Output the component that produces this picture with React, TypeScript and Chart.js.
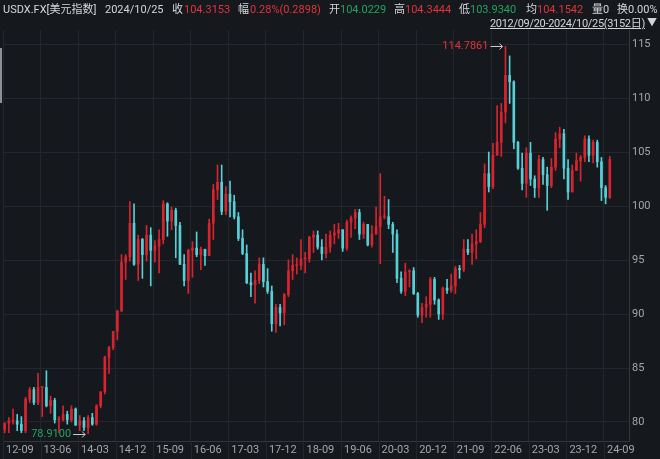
import React, { useEffect, useRef } from "react";
import { Chart, registerables } from "chart.js";

Chart.register(...registerables);

// Monthly candles, Sep 2012 (partial, from 09/20) .. Oct 2024 (to 10/25)
const firstOpen = 79.3;

const closes = [
  79.9, 80.1, 80.1, 79.8,
  79.2, 82.1, 83.0, 81.8, 83.2, 83.2, 81.5, 82.0, 80.2, 80.2, 80.7, 80.2,
  81.2, 79.7, 80.1, 79.5, 80.4, 79.8, 81.5, 82.8, 86.0, 86.9, 88.4, 90.3,
  94.8, 95.3, 98.4, 94.6, 96.9, 95.5, 97.3, 95.9, 96.3, 96.9, 100.2, 98.6,
  99.6, 98.2, 94.6, 93.1, 95.9, 96.1, 95.5, 96.0, 95.4, 98.4, 101.5, 102.2,
  99.5, 101.1, 100.4, 99.0, 97.0, 95.6, 92.9, 92.7, 93.1, 94.6, 93.0, 92.1,
  89.1, 90.6, 90.1, 91.8, 94.0, 94.5, 94.5, 95.1, 95.1, 97.1, 97.3, 96.2,
  95.6, 96.2, 97.3, 97.5, 97.8, 96.1, 98.5, 98.9, 99.4, 97.4, 98.3, 96.4,
  97.4, 98.1, 99.0, 99.0, 98.3, 97.4, 93.3, 92.1, 93.9, 94.0, 91.9, 89.9,
  90.6, 90.9, 93.2, 91.3, 90.0, 92.4, 92.2, 92.6, 94.2, 94.1, 96.0, 95.7,
  96.5, 96.7, 98.3, 103.0, 101.8, 104.7, 105.9, 108.7, 112.1, 111.5, 105.9, 103.5,
  102.1, 104.9, 102.5, 101.7, 104.3, 102.9, 101.9, 103.6, 106.2, 106.7, 103.5, 101.3,
  103.3, 104.2, 104.5, 106.2, 104.7, 105.9, 104.1, 101.7, 100.8, 104.3153,
];

const highs = [
  79.9, 80.4, 81.2, 80.7,
  80.5, 82.3, 83.2, 83.2, 84.5, 83.2, 84.75, 82.4, 82.2, 80.5, 81.5, 81.0,
  81.5, 81.3, 80.6, 80.4, 80.6, 80.8, 81.6, 82.8, 86.1, 87.0, 88.4, 90.3,
  95.5, 95.5, 100.4, 100.2, 97.3, 97.0, 98.2, 98.0, 96.8, 97.8, 100.5, 100.3,
  99.9, 99.8, 98.5, 95.5, 96.0, 96.7, 97.6, 96.2, 96.0, 98.8, 102.0, 103.8,
  103.8, 101.8, 102.3, 101.0, 99.4, 97.8, 96.4, 93.8, 94.0, 95.2, 95.2, 94.2,
  92.6, 90.9, 90.9, 91.9, 95.0, 95.5, 95.2, 96.9, 95.7, 97.2, 97.7, 97.7,
  96.9, 97.4, 97.7, 98.3, 98.4, 97.8, 98.7, 99.1, 99.7, 99.7, 98.5, 98.3,
  98.2, 99.9, 103.0, 100.9, 100.6, 98.5, 97.8, 93.9, 94.7, 94.1, 94.3, 92.0,
  91.0, 91.6, 93.4, 93.4, 91.4, 92.5, 93.2, 93.7, 94.4, 94.5, 96.9, 96.9,
  97.4, 97.8, 99.4, 103.9, 105.0, 105.8, 109.3, 109.5, 114.7861, 113.9, 111.6, 106.0,
  104.9, 105.4, 105.9, 102.8, 104.7, 104.5, 103.6, 104.4, 106.8, 107.3, 107.1, 104.3,
  103.8, 104.9, 104.7, 106.5, 106.5, 106.1, 106.1, 104.5, 101.9, 104.6,
];

const lows = [
  79.0, 79.0, 79.8, 79.2,
  79.0, 79.0, 81.8, 81.6, 81.6, 80.5, 81.4, 80.8, 79.9, 79.0, 80.1, 79.8,
  80.0, 79.7, 79.2, 79.2, 78.91, 79.7, 79.7, 81.3, 82.6, 84.5, 86.7, 87.6,
  90.2, 93.2, 94.9, 94.5, 93.1, 93.3, 94.9, 92.6, 94.8, 93.8, 96.5, 97.2,
  97.8, 95.2, 94.6, 92.6, 91.9, 93.4, 95.3, 94.1, 94.5, 95.4, 96.9, 100.6,
  99.2, 99.2, 99.0, 98.8, 96.8, 95.5, 92.8, 91.6, 91.0, 92.8, 92.5, 91.9,
  88.4, 88.3, 88.9, 89.0, 91.6, 93.2, 93.7, 94.1, 93.8, 94.8, 95.7, 96.0,
  95.0, 95.2, 95.7, 96.5, 97.0, 95.8, 95.9, 97.1, 97.9, 96.9, 97.0, 96.3,
  96.2, 97.4, 94.65, 98.8, 97.9, 95.7, 92.9, 91.9, 91.7, 92.5, 91.8, 89.7,
  89.2, 89.7, 89.7, 90.9, 89.5, 89.5, 91.9, 92.0, 91.9, 93.3, 93.9, 95.5,
  94.6, 95.1, 96.6, 98.0, 101.3, 101.6, 104.7, 104.6, 107.7, 109.5, 105.3, 103.4,
  101.5, 100.8, 101.9, 100.8, 100.8, 102.0, 99.6, 101.7, 103.3, 105.4, 102.5, 100.6,
  101.3, 103.3, 102.3, 104.1, 104.1, 104.0, 103.6, 100.5, 100.2, 100.7,
];

const xTickLabels = [
  "12-09", "13-06", "14-03", "14-12", "15-09", "16-06", "17-03", "17-12", "18-09",
  "19-06", "20-03", "20-12", "21-09", "22-06", "23-03", "23-12", "24-09",
];
const yTickValues = [80, 85, 90, 95, 100, 105, 110, 115];

const UP = "#d8242f";
const DOWN = "#55d0d6";
const BG = "#15181d";
const GRID = "#23262c";
const TEXT = "#a3a6ab";
const RED = "#e1343c";
const GREEN = "#25a35c";

const opens = closes.map((_, i) => (i === 0 ? firstOpen : closes[i - 1]));
const candleColor = closes.map((c, i) => (c >= opens[i] ? UP : DOWN));

const extremesPlugin = {
  id: "extremes",
  afterDatasetsDraw(chart: any) {
    const { ctx, scales } = chart;
    const xs = scales.x;
    const ys = scales.y;
    const hi = Math.max(...highs);
    const hiIdx = highs.indexOf(hi);
    const lo = Math.min(...lows);
    const loIdx = lows.indexOf(lo);
    ctx.save();
    ctx.font = "11px Roboto";
    ctx.textBaseline = "middle";
    const drawMark = (idx: number, val: number, color: string) => {
      const px = xs.getPixelForValue(idx + 0.4);
      const py = ys.getPixelForValue(val);
      const tipX = px - 3;
      const startX = tipX - 12;
      ctx.strokeStyle = "#c9ccd1";
      ctx.lineWidth = 1;
      ctx.beginPath();
      ctx.moveTo(startX, Math.round(py) + 0.5);
      ctx.lineTo(tipX, Math.round(py) + 0.5);
      ctx.moveTo(tipX - 3, Math.round(py) - 2.5);
      ctx.lineTo(tipX, Math.round(py) + 0.5);
      ctx.lineTo(tipX - 3, Math.round(py) + 3.5);
      ctx.stroke();
      ctx.fillStyle = color;
      ctx.textAlign = "right";
      ctx.fillText(val.toFixed(4), startX - 2, py);
    };
    drawMark(hiIdx, hi, RED);
    drawMark(loIdx, lo, GREEN);
    // separators in the x label band
    ctx.strokeStyle = GRID;
    ctx.lineWidth = 1;
    const bottom = chart.chartArea.bottom;
    xs.ticks.forEach((t: any) => {
      const p = Math.round(xs.getPixelForValue(t.value)) + 0.5;
      ctx.beginPath();
      ctx.moveTo(p, bottom);
      ctx.lineTo(p, bottom + 18);
      ctx.stroke();
    });
    ctx.restore();
  },
};

function CandleChart() {
  const ref = useRef<HTMLCanvasElement | null>(null);
  useEffect(() => {
    if (!ref.current) return;
    const bodies = closes.map((c, i) => ({ x: i + 0.4, y: [opens[i], c] }));
    const wicks = closes.map((_, i) => ({ x: i + 0.4, y: [lows[i], highs[i]] }));
    const chart = new Chart(ref.current, {
      type: "bar",
      data: {
        datasets: [
          {
            data: wicks as any,
            backgroundColor: candleColor,
            borderWidth: 0,
            barThickness: 1,
            grouped: false,
            order: 2,
          } as any,
          {
            data: bodies as any,
            backgroundColor: candleColor,
            borderWidth: 0,
            barThickness: 2,
            minBarLength: 1,
            grouped: false,
            order: 1,
          } as any,
        ],
      },
      options: {
        animation: false,
        responsive: false,
        maintainAspectRatio: false,
        devicePixelRatio: 1,
        layout: { padding: { top: 30, left: 0, right: 0, bottom: 0 } },
        plugins: { legend: { display: false }, tooltip: { enabled: false } },
        scales: {
          x: {
            type: "linear",
            min: 0,
            max: 150,
            bounds: "data",
            offset: false,
            afterBuildTicks: (s: any) => {
              s.ticks = xTickLabels.map((_, k) => ({ value: k * 9 }));
            },
            afterFit: (s: any) => {
              s.height = 18;
            },
            grid: { color: GRID, drawTicks: false, offset: false },
            border: { color: "#34373e" },
            ticks: {
              align: "start",
              labelOffset: 3,
              padding: 3,
              color: TEXT,
              autoSkip: false,
              maxRotation: 0,
              font: { size: 11, family: "Roboto" },
              callback: (_v: any, i: number) => xTickLabels[i],
            },
          },
          y: {
            position: "right",
            min: 78.24,
            max: 116.3,
            bounds: "data",
            afterBuildTicks: (s: any) => {
              s.ticks = yTickValues.map((v) => ({ value: v }));
            },
            afterFit: (s: any) => {
              s.width = 31;
            },
            grid: { color: GRID, drawTicks: false },
            border: { color: "#34373e" },
            ticks: {
              padding: 3,
              color: TEXT,
              font: { size: 11, family: "Roboto" },
              callback: (v: any) => String(v),
            },
          },
        },
      } as any,
      plugins: [extremesPlugin],
    });
    return () => chart.destroy();
  }, []);
  return (
    <canvas
      ref={ref}
      width={660}
      height={459}
      style={{ position: "absolute", left: 0, top: 0, width: 660, height: 459 }}
    />
  );
}

const headerFont = 'Roboto, "Noto Sans CJK SC", sans-serif';

function H({ left, color, children }: { left: number; color?: string; children: any }) {
  return (
    <span
      style={{
        position: "absolute",
        left,
        top: 2,
        fontSize: 11,
        lineHeight: "16px",
        color: color || "#d4d6da",
        whiteSpace: "nowrap",
        fontFamily: headerFont,
      }}
    >
      {children}
    </span>
  );
}

export default function App() {
  return (
    <div style={{ position: "relative", width: 660, height: 459, background: BG, overflow: "hidden" }}>
      <style>{`html,body{margin:0;padding:0;background:${BG};}`}</style>
      <CandleChart />
      <H left={3}>USDX.FX[美元指数]</H>
      <H left={105}>2024/10/25</H>
      <H left={172}>收</H>
      <H left={184} color={RED}>104.3153</H>
      <H left={238}>幅</H>
      <H left={250} color={RED}>0.28%(0.2898)</H>
      <H left={329}>开</H>
      <H left={340} color={GREEN}>104.0229</H>
      <H left={394}>高</H>
      <H left={405} color={RED}>104.3444</H>
      <H left={459}>低</H>
      <H left={470} color={GREEN}>103.9340</H>
      <H left={526}>均</H>
      <H left={537} color={RED}>104.1542</H>
      <H left={592}>量0</H>
      <H left={617}>换0.00%</H>
      <span
        style={{
          position: "absolute",
          right: 15,
          top: 16,
          fontSize: 11,
          lineHeight: "15px",
          letterSpacing: "-0.3px",
          color: "#d4d6da",
          textDecoration: "underline",
          whiteSpace: "nowrap",
          fontFamily: headerFont,
        }}
      >
        2012/09/20-2024/10/25(3152日)
      </span>
      <span
        style={{
          position: "absolute",
          left: 647,
          top: 16,
          fontSize: 10,
          lineHeight: "14px",
          color: "#d4d6da",
          fontFamily: headerFont,
        }}
      >
        ▼
      </span>
      <div style={{ position: "absolute", left: 0, top: 48, width: 2, height: 55, background: "#8d9096" }} />
    </div>
  );
}
